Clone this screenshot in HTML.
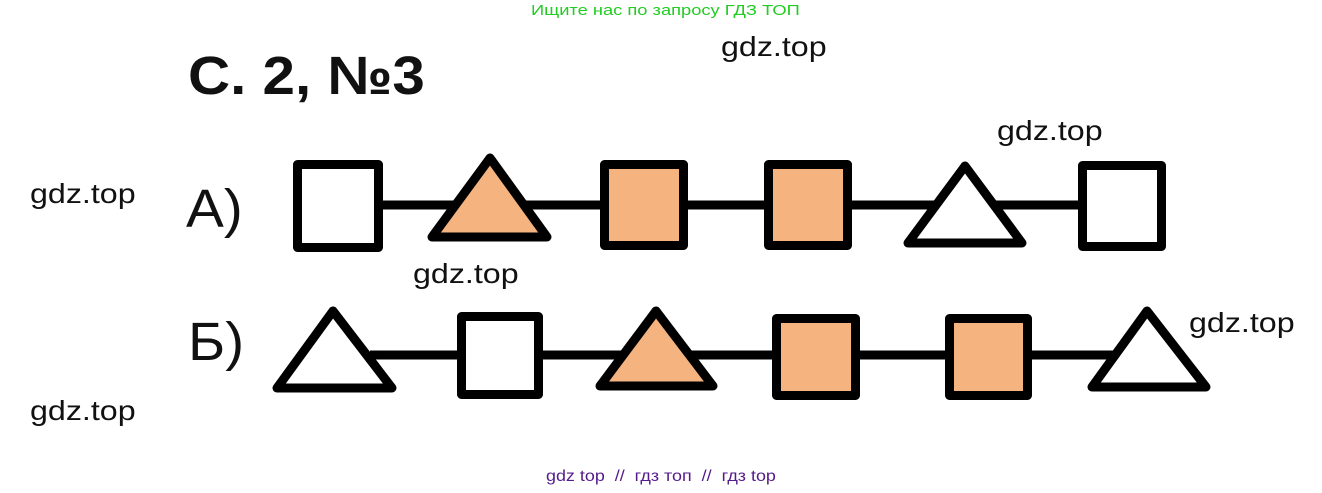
<!DOCTYPE html>
<html><head><meta charset="utf-8"><style>
body{margin:0;width:1322px;height:493px;background:#fff;position:relative;overflow:hidden;font-family:"Liberation Sans",sans-serif}
.t{position:absolute;white-space:nowrap;transform-origin:0 0}
.w{font-size:28px;color:#111;transform:scaleX(1.15)}
</style></head><body>
<div class="t" style="left:531px;top:2px;font-size:15px;color:#22cc22;transform:scaleX(1.22)">Ищите нас по запросу ГДЗ ТОП</div>
<div class="t w" style="left:721px;top:31px">gdz.top</div>
<div class="t" style="left:188px;top:45px;font-size:54px;font-weight:bold;color:#111;transform:scaleX(1.08)">С. 2, №3</div>
<div class="t w" style="left:997px;top:115px">gdz.top</div>
<div class="t w" style="left:30px;top:178px">gdz.top</div>
<div class="t" style="left:186px;top:178px;font-size:54px;color:#111;transform:scaleX(1.05)">А)</div>
<div class="t w" style="left:413px;top:258px">gdz.top</div>
<div class="t" style="left:188px;top:311px;font-size:54px;color:#111;transform:scaleX(1.05)">Б)</div>
<div class="t w" style="left:1189px;top:307px">gdz.top</div>
<div class="t w" style="left:30px;top:395px">gdz.top</div>
<div class="t" style="left:546px;top:468px;font-size:16px;color:#551a8b;transform:scaleX(1.12)">gdz top &nbsp;// &nbsp;гдз топ &nbsp;// &nbsp;гдз top</div>
<svg width="1322" height="493" style="position:absolute;left:0;top:0" stroke="#000" stroke-width="9" stroke-linejoin="round">
<line x1="378" y1="205" x2="1080" y2="205"/>
<rect x="297.5" y="164.5" width="81" height="83" fill="#fff"/>
<polygon points="490,158 432,237 547,237" fill="#f4b37f"/>
<rect x="604.5" y="164.5" width="79" height="81" fill="#f4b37f"/>
<rect x="768.5" y="164.5" width="79" height="81" fill="#f4b37f"/>
<polygon points="965,166 908,243 1022,243" fill="#fff"/>
<rect x="1082.5" y="165.5" width="79" height="81" fill="#fff"/>
<line x1="370" y1="355" x2="1115" y2="355"/>
<polygon points="333,311 277,388 392,388" fill="#fff"/>
<rect x="461.5" y="316.5" width="77" height="78" fill="#fff"/>
<polygon points="656,311 600,386 713,386" fill="#f4b37f"/>
<rect x="776.5" y="318.5" width="79" height="77" fill="#f4b37f"/>
<rect x="949.5" y="318.5" width="78" height="77" fill="#f4b37f"/>
<polygon points="1147,311 1092,387 1206,387" fill="#fff"/>
</svg>
</body></html>
